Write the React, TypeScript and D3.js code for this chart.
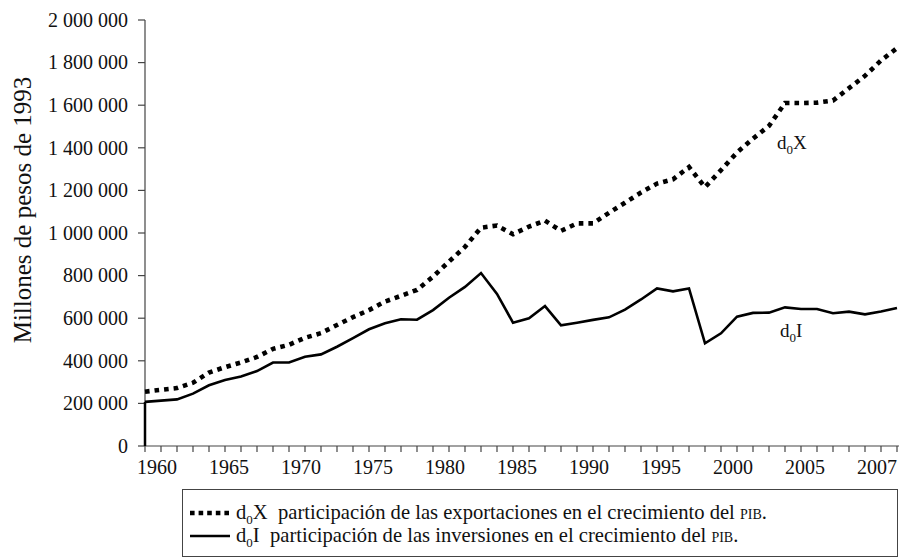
import * as d3 from "d3";

// años de la serie
const years = [
  1960, 1961, 1962, 1963, 1964, 1965, 1966, 1967, 1968, 1969,
  1970, 1971, 1972, 1973, 1974, 1975, 1976, 1977, 1978, 1979,
  1980, 1981, 1982, 1983, 1984, 1985, 1986, 1987, 1988, 1989,
  1990, 1991, 1992, 1993, 1994, 1995, 1996, 1997, 1998, 1999,
  2000, 2001, 2002, 2003, 2004, 2005, 2006, 2007,
];

// d0X: participación de las exportaciones (millones de pesos de 1993)
const d0X = [
  255000, 264000, 272000, 297000, 345000, 370000, 392000, 418000, 456000, 475000,
  508000, 530000, 568000, 605000, 638000, 678000, 705000, 733000, 795000, 866000,
  935000, 1025000, 1035000, 994000, 1030000, 1058000, 1010000, 1045000, 1045000, 1095000,
  1142000, 1190000, 1232000, 1252000, 1310000, 1215000, 1295000, 1378000, 1443000, 1503000,
  1610000, 1610000, 1612000, 1622000, 1680000, 1738000, 1810000, 1868000,
];

// d0I: participación de las inversiones
const d0I = [
  207000, 213000, 219000, 246000, 285000, 310000, 326000, 352000, 392000, 392000,
  419000, 430000, 466000, 506000, 548000, 576000, 595000, 593000, 638000, 696000,
  747000, 812000, 714000, 579000, 600000, 657000, 567000, 579000, 592000, 604000,
  640000, 688000, 740000, 726000, 740000, 482000, 529000, 607000, 625000, 626000,
  651000, 643000, 643000, 623000, 631000, 618000, 631000, 648000,
];

const yTicks = [0, 200000, 400000, 600000, 800000, 1000000, 1200000, 1400000, 1600000, 1800000, 2000000];
const xLabels = ["1960", "1965", "1970", "1975", "1980", "1985", "1990", "1995", "2000", "2005", "2007"];

const serif = "Liberation Serif, Times New Roman, serif";
const axisColor = "#444";
const ink = "#111";

export default function App() {
  const width = 899;
  const height = 558;

  const x = d3.scaleLinear().domain([1960, 2007]).range([145, 897]);
  const y = d3.scaleLinear().domain([0, 2000000]).range([446, 20]);
  const labelX = d3.scalePoint<string>().domain(xLabels).range([157, 877]);

  const fmt = d3
    .formatLocale({ decimal: ",", thousands: " ", grouping: [3], currency: ["", ""] })
    .format(",");

  const line = d3
    .line<number>()
    .x((_, i) => x(years[i]))
    .y((d) => y(d));

  const x0 = x(years[0]);
  const y0 = y(0);

  const txt = { fontFamily: serif, fill: ink } as const;

  return (
    <svg
      width={width}
      height={height}
      style={{ position: "absolute", left: 0, top: 0, background: "#fff", fontFamily: serif }}
    >
      {/* eje y */}
      <line x1={x0} x2={x0} y1={y(2000000)} y2={y0} stroke={axisColor} strokeWidth={1.2} />
      {yTicks.map((t) => (
        <g key={t}>
          <line x1={x0 - 7} x2={x0} y1={y(t)} y2={y(t)} stroke={axisColor} strokeWidth={1.2} />
          <text {...txt} x={x0 - 17} y={y(t)} dy="0.34em" textAnchor="end" fontSize={20}>
            {fmt(t)}
          </text>
        </g>
      ))}
      <text
        {...txt}
        transform={`translate(22,${y(1000000) - 23}) rotate(-90)`}
        textAnchor="middle"
        dy="0.35em"
        fontSize={25}
      >
        Millones de pesos de 1993
      </text>

      {/* eje x */}
      <line x1={x0} x2={width} y1={y0} y2={y0} stroke={axisColor} strokeWidth={1.2} />
      {years.map((yr) => (
        <line key={yr} x1={x(yr)} x2={x(yr)} y1={y0} y2={y0 + 6} stroke={axisColor} strokeWidth={1.2} />
      ))}
      {xLabels.map((l) => (
        <text {...txt} key={l} x={labelX(l)} y={y0 + 28} textAnchor="middle" fontSize={20}>
          {l}
        </text>
      ))}

      {/* series */}
      <line x1={x0} x2={x0} y1={y0} y2={y(d0I[0])} stroke="#000" strokeWidth={2.5} />
      <path d={line(d0I) ?? ""} fill="none" stroke="#000" strokeWidth={2.6} strokeLinejoin="miter" />
      <path
        d={line(d0X) ?? ""}
        fill="none"
        stroke="#000"
        strokeWidth={4.6}
        strokeDasharray="4.6,5"
      />

      {/* etiquetas de series */}
      <text {...txt} x={777} y={149} fontSize={19}>
        d<tspan fontSize={13} dy={5}>0</tspan>
        <tspan dy={-5}>X</tspan>
      </text>
      <text {...txt} x={780} y={337} fontSize={19}>
        d<tspan fontSize={13} dy={5}>0</tspan>
        <tspan dy={-5}>I</tspan>
      </text>

      {/* leyenda */}
      <rect x={182.5} y={489.5} width={715} height={67} fill="none" stroke={axisColor} strokeWidth={1} />
      <line x1={190} x2={230} y1={513} y2={513} stroke="#000" strokeWidth={4.6} strokeDasharray="4.6,4" />
      <line x1={190} x2={230} y1={536} y2={536} stroke="#000" strokeWidth={2.4} />
      <text {...txt} x={236} y={519} fontSize={20.6}>
        d<tspan fontSize={13} dy={5}>0</tspan>
        <tspan dy={-5}>{"X\u00a0 participación de las exportaciones en el crecimiento del "}</tspan>
        <tspan style={{ fontVariant: "small-caps" }}>pib</tspan>.
      </text>
      <text {...txt} x={236} y={542} fontSize={20.6}>
        d<tspan fontSize={13} dy={5}>0</tspan>
        <tspan dy={-5}>{"I\u00a0 participación de las inversiones en el crecimiento del "}</tspan>
        <tspan style={{ fontVariant: "small-caps" }}>pib</tspan>.
      </text>
    </svg>
  );
}
